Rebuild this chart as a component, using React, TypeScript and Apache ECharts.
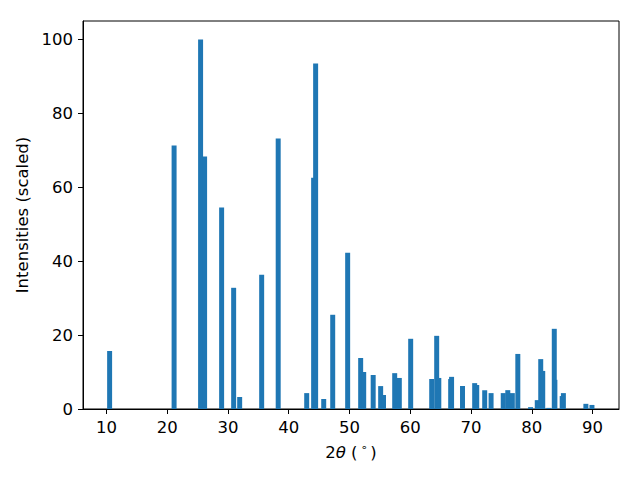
import React, { useEffect, useRef } from "react";
import * as echarts from "echarts";

const positions = [10.53, 21.14, 25.5, 26.16, 28.96, 30.94, 31.93, 35.55, 38.27, 42.96, 44.1, 44.43, 45.76, 47.24, 49.7, 51.84, 52.34, 53.9, 55.13, 55.6, 57.44, 58.2, 60.07, 63.53, 64.35, 64.7, 66.65, 66.8, 68.6, 70.6, 70.94, 72.25, 73.3, 75.3, 76.05, 76.8, 77.7, 79.8, 80.9, 81.47, 81.8, 82.8, 83.7, 83.8, 85.0, 85.2, 88.9, 89.9];
const intensities = [15.7, 71.3, 100, 68.3, 54.5, 32.8, 3.25, 36.3, 73.2, 4.3, 62.6, 93.5, 2.7, 25.5, 42.3, 13.8, 10.0, 9.2, 6.2, 3.8, 9.7, 8.4, 19.0, 8.1, 19.8, 8.4, 8.1, 8.7, 6.2, 7.0, 6.5, 5.1, 4.3, 4.3, 5.1, 4.3, 14.9, 0.5, 2.4, 13.5, 10.3, 0.3, 21.7, 7.9, 3.5, 4.3, 1.4, 1.1];
const xTicks = [10, 20, 30, 40, 50, 60, 70, 80, 90];
const yTicks = [0, 20, 40, 60, 80, 100];
const barWidthUnits = 0.82;

const FONT = "DejaVu Sans";

export default function App() {
  const ref = useRef<HTMLDivElement>(null);
  useEffect(() => {
    if (!ref.current) return;
    const chart = echarts.init(ref.current, null, { renderer: "svg" });
    const data = positions.map((p, i) => [p, intensities[i]]);
    chart.setOption({
      animation: false,
      grid: {
        left: 83,
        right: 21,
        top: 21,
        bottom: 71,
        show: true,
        borderColor: "#000",
        borderWidth: 1,
        backgroundColor: "transparent",
      },
      xAxis: {
        type: "value",
        min: 6.15,
        max: 94.35,
        splitLine: { show: false },
        axisLine: { show: true, lineStyle: { color: "#000", width: 1 } },
        axisTick: { show: true, length: 5, lineStyle: { color: "#000" }, customValues: xTicks },
        axisLabel: { customValues: xTicks, color: "#000", fontSize: 16.5, fontFamily: FONT, margin: 10 },
        name: "{n|2}{i|θ}{n| (}{s|∘}{n|)}",
        nameLocation: "middle",
        nameGap: 33,
        nameTextStyle: {
          color: "#000",
          fontFamily: FONT,
          fontSize: 16.5,
          rich: {
            n: { fontSize: 16.5, fontFamily: FONT, color: "#000", lineHeight: 20 },
            i: { fontSize: 16.5, fontFamily: FONT, fontStyle: "italic", color: "#000", lineHeight: 20 },
            s: { fontSize: 11, fontFamily: FONT, color: "#000", verticalAlign: "top", padding: [0, 3, 0, 3], lineHeight: 20 },
          },
        },
      },
      yAxis: {
        type: "value",
        min: 0,
        max: 105,
        splitLine: { show: false },
        axisLine: { show: true, lineStyle: { color: "#000", width: 1 } },
        axisTick: { show: true, length: 5, lineStyle: { color: "#000" }, customValues: yTicks },
        axisLabel: { customValues: yTicks, color: "#000", fontSize: 16.5, fontFamily: FONT, margin: 10 },
        name: "Intensities (scaled)",
        nameLocation: "middle",
        nameRotate: 90,
        nameGap: 45,
        nameTextStyle: { color: "#000", fontFamily: FONT, fontSize: 16.5 },
      },
      series: [
        {
          type: "custom",
          data,
          renderItem: (params: any, api: any) => {
            const x = api.value(0);
            const y = api.value(1);
            const top = api.coord([x, y]);
            const base = api.coord([x, 0]);
            const w = api.size([barWidthUnits, 0])[0];
            return {
              type: "rect",
              shape: { x: top[0] - w / 2, y: top[1], width: w, height: base[1] - top[1] },
              style: { fill: "#1f77b4" },
            };
          },
        },
      ],
    });
    return () => chart.dispose();
  }, []);
  return (
    <div
      ref={ref}
      style={{ position: "absolute", left: 0, top: 0, width: 640, height: 480 }}
    />
  );
}
